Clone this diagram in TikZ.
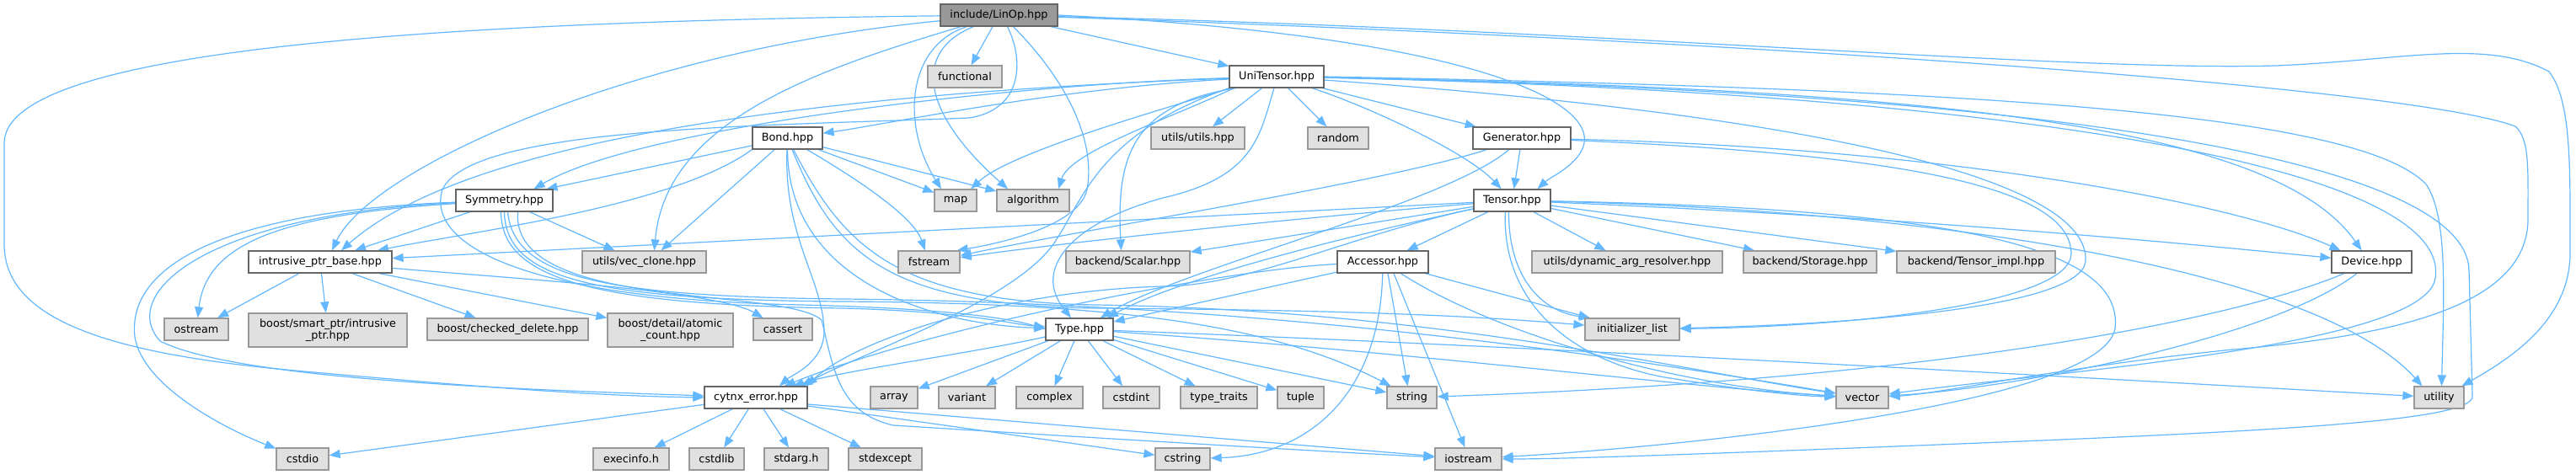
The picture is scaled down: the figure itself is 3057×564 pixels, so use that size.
\documentclass[tikz,border=0pt]{standalone}
\usepackage{fontspec}
\setmainfont{DejaVu Sans}
\usetikzlibrary{arrows.meta}
\definecolor{edgeblue}{HTML}{63B8FF}
\definecolor{boxborder}{HTML}{666666}
\definecolor{sysborder}{HTML}{999999}
\definecolor{sysfill}{HTML}{E0E0E0}
\definecolor{rootfill}{HTML}{999999}
\pgfdeclarelayer{bg}
\pgfsetlayers{bg,main}
\begin{document}
\begin{tikzpicture}[x=1pt,y=-1pt,
  box/.style={draw=boxborder, fill=white, line width=1.3pt, inner sep=0pt,
    font=\fontsize{12.8}{14.5}\selectfont, align=center, minimum height=26pt},
  sysbox/.style={box, draw=sysborder, fill=sysfill},
  rootbox/.style={box, draw=boxborder, fill=rootfill},
  e/.style={draw=edgeblue, line width=1.2pt, -{Triangle[length=13pt,width=10pt]}}]
\useasboundingbox (0,0) rectangle (3057,564);
% rank 1
\node[rootbox, minimum width=139pt] (linop) at (1185.5,18) {include/LinOp.hpp};
% rank 2
\node[sysbox, minimum width=88pt] (functional) at (1145,91) {functional};
\node[box, minimum width=112pt] (unitensor) at (1515,91) {UniTensor.hpp};
% rank 3
\node[box, minimum width=83pt] (bond) at (934.5,164) {Bond.hpp};
\node[sysbox, minimum width=111pt] (utilsutils) at (1421.5,164) {utils/utils.hpp};
\node[sysbox, minimum width=72pt] (random) at (1588,164) {random};
\node[box, minimum width=116pt] (generator) at (1806,164) {Generator.hpp};
% rank 4
\node[box, minimum width=115pt] (symmetry) at (598.5,238) {Symmetry.hpp};
\node[sysbox, minimum width=50pt] (map) at (1134,238) {map};
\node[sysbox, minimum width=86pt] (algorithm) at (1226,238) {algorithm};
\node[box, minimum width=91pt] (tensor) at (1794.5,238) {Tensor.hpp};
% rank 5
\node[box, minimum width=170pt] (intrusive) at (380,311) {intrusive\_ptr\_base.hpp};
\node[sysbox, minimum width=147pt] (vecclone) at (764.5,311) {utils/vec\_clone.hpp};
\node[sysbox, minimum width=73pt] (fstream) at (1102.5,311) {fstream};
\node[sysbox, minimum width=147pt] (scalar) at (1338.5,311) {backend/Scalar.hpp};
\node[box, minimum width=108pt] (accessor) at (1641,311) {Accessor.hpp};
\node[sysbox, minimum width=226pt] (dynarg) at (1931,311) {utils/dynamic\_arg\_resolver.hpp};
\node[sysbox, minimum width=158pt] (storage) at (2148,311) {backend/Storage.hpp};
\node[sysbox, minimum width=188pt] (tensorimpl) at (2345,311) {backend/Tensor\_impl.hpp};
\node[box, minimum width=95pt] (device) at (2814.5,311) {Device.hpp};
% rank 6
\node[sysbox, minimum width=76pt] (ostream) at (233,391) {ostream};
\node[sysbox, minimum width=188pt, minimum height=40pt] (smartptr) at (389,392) {boost/smart\_ptr/intrusive\\\_ptr.hpp};
\node[sysbox, minimum width=191pt] (checked) at (602.5,391) {boost/checked\_delete.hpp};
\node[sysbox, minimum width=149pt, minimum height=40pt] (atomic) at (795.5,392) {boost/detail/atomic\\\_count.hpp};
\node[sysbox, minimum width=70pt] (cassert) at (929,391) {cassert};
\node[box, minimum width=80pt] (type) at (1281,391) {Type.hpp};
\node[sysbox, minimum width=112pt] (initlist) at (1937,391) {initializer\_list};
% rank 7
\node[box, minimum width=122pt] (cytnxerror) at (897,472) {cytnx\_error.hpp};
\node[sysbox, minimum width=56pt] (array) at (1061,472) {array};
\node[sysbox, minimum width=67pt] (variant) at (1147.5,472) {variant};
\node[sysbox, minimum width=79pt] (complex) at (1245.5,472) {complex};
\node[sysbox, minimum width=67pt] (cstdint) at (1342.5,472) {cstdint};
\node[sysbox, minimum width=91pt] (typetraits) at (1446.5,472) {type\_traits};
\node[sysbox, minimum width=55pt] (tuple) at (1543.5,472) {tuple};
\node[sysbox, minimum width=59pt] (string) at (1675.5,472) {string};
\node[sysbox, minimum width=62pt] (vector) at (2210,472) {vector};
\node[sysbox, minimum width=59pt] (utility) at (2894.5,472) {utility};
% rank 8
\node[sysbox, minimum width=62pt] (cstdio) at (359,545) {cstdio};
\node[sysbox, minimum width=90pt] (execinfo) at (749,545) {execinfo.h};
\node[sysbox, minimum width=65pt] (cstdlib) at (850.5,545) {cstdlib};
\node[sysbox, minimum width=76pt] (stdarg) at (945,545) {stdarg.h};
\node[sysbox, minimum width=87pt] (stdexcept) at (1050.5,545) {stdexcept};
\node[sysbox, minimum width=65pt] (cstring) at (1403.5,545) {cstring};
\node[sysbox, minimum width=79pt] (iostream) at (1742.5,545) {iostream};

\begin{pgfonlayer}{bg}
\fill[white] (0,0) rectangle (3057,564);
% ---- LinOp
\draw[e] (linop) .. controls (500,26) and (5,60) .. (5,170) -- (5,290) .. controls (5,380) and (130,420) .. (350,440) .. controls (550,458) and (700,470) .. (cytnxerror.west);
\draw[e] (linop) .. controls (750,60) and (440,200) .. ([xshift=14pt]intrusive.north);
\draw[e] (linop) .. controls (980,80) and (790,140) .. ([xshift=12pt]vecclone.north);
\draw[e] ([xshift=32pt]linop.south west) .. controls (1075,55) and (1070,150) .. ([xshift=-17pt]map.north);
\draw[e] ([xshift=40pt]linop.south west) .. controls (1085,60) and (1090,130) .. ([xshift=-30pt]algorithm.north);
\draw[e] (linop) -- (functional);
\draw[e] ([xshift=10pt]linop.south) .. controls (1215,70) and (1215,130) .. (1150,140) .. controls (900,150) and (560,150) .. (525,225) .. controls (505,290) and (620,355) .. (950,362) .. controls (1120,366) and (1200,378) .. (type.west);
\draw[e] ([xshift=17pt]linop.south) .. controls (1270,100) and (1300,170) .. (1290,225) .. controls (1280,270) and (1180,290) .. ([xshift=-4pt]fstream.north east);
\draw[e] (linop) -- (unitensor);
\draw[e] (linop.east) .. controls (1700,40) and (1890,110) .. (1880,170) .. controls (1875,195) and (1840,210) .. ([xshift=30pt]tensor.north);
\draw[e] (linop) .. controls (1900,35) and (2450,85) .. (2700,78) .. controls (2850,72) and (2950,45) .. (3025,85) .. controls (3052,120) and (3050,200) .. (3050,300) .. controls (3050,380) and (2980,425) .. ([xshift=27pt]utility.north);
\draw[e] (linop) .. controls (2000,45) and (2850,100) .. (2985,150) .. controls (3002,165) and (3000,200) .. (3000,260) .. controls (3000,370) and (2820,400) .. (2650,415) .. controls (2450,435) and (2300,468) .. (vector);
% ---- UniTensor
\draw[e] (unitensor) -- (utilsutils);
\draw[e] (unitensor) -- (random);
\draw[e] (unitensor) -- (generator);
\draw[e] (unitensor) .. controls (1620,125) and (1740,180) .. (tensor);
\draw[e] (unitensor) .. controls (1250,105) and (1050,148) .. (bond);
\draw[e] (unitensor) .. controls (1200,100) and (760,150) .. ([xshift=35pt]symmetry.north);
\draw[e] (unitensor) .. controls (1000,110) and (560,160) .. ([xshift=25pt]intrusive.north);
\draw[e] (unitensor.south west) .. controls (1300,160) and (1285,240) .. (1250,290) .. controls (1200,360) and (1020,420) .. ([xshift=54pt]cytnxerror.north);
\draw[e] ([xshift=2pt]unitensor.south west) .. controls (1380,130) and (1200,180) .. ([xshift=18pt]map.north);
\draw[e] ([xshift=6pt]unitensor.south west) .. controls (1390,140) and (1270,180) .. ([xshift=30pt]algorithm.north);
\draw[e] ([xshift=8pt]unitensor.south west) .. controls (1340,125) and (1325,190) .. ([xshift=-8pt]scalar.north);
\draw[e] ([xshift=-3pt]unitensor.south) .. controls (1495,160) and (1490,210) .. (1380,235) .. controls (1270,265) and (1225,320) .. ([xshift=-10pt]type.north);
\draw[e] (unitensor) .. controls (2300,105) and (2700,150) .. ([xshift=-12pt]device.north);
\draw[e] (unitensor.east) .. controls (2300,105) and (2800,130) .. (2880,220) .. controls (2905,260) and (2900,350) .. ([xshift=3pt]utility.north);
\draw[e] (unitensor) .. controls (2400,110) and (2910,200) .. (2890,330) .. controls (2880,410) and (2450,440) .. (vector);
\draw[e] (unitensor) .. controls (2500,110) and (2925,200) .. (2930,320) -- (2934,470) .. controls (2938,500) and (2700,512) .. (2300,528) .. controls (2000,540) and (1850,545) .. (iostream);
\draw[e] (unitensor) .. controls (2200,140) and (2480,220) .. (2475,310) .. controls (2470,365) and (2200,385) .. (initlist);
% ---- Generator
\draw[e] (generator) -- (tensor);
\draw[e] (generator) .. controls (2300,175) and (2650,240) .. ([xshift=-37pt]device.north);
\draw[e] (generator) .. controls (2300,185) and (2455,230) .. (2458,300) .. controls (2460,360) and (2200,388) .. (initlist);
\draw[e] (generator) .. controls (1650,215) and (1300,270) .. (fstream);
\draw[e] (generator) .. controls (1720,240) and (1400,320) .. ([xshift=25pt]type.north);
% ---- Tensor
\draw[e] (tensor) -- (accessor);
\draw[e] (tensor) -- (dynarg);
\draw[e] (tensor) -- (storage);
\draw[e] (tensor) -- (tensorimpl);
\draw[e] ([xshift=-4pt]tensor.south) .. controls (1790,330) and (1830,370) .. ([xshift=-50pt]initlist.north);
\draw[e] ([xshift=-8pt]tensor.south) .. controls (1782,340) and (1840,420) .. (1970,447) .. controls (2060,462) and (2130,470) .. (vector);
\draw[e] (tensor) .. controls (2300,260) and (2600,290) .. (device);
\draw[e] (tensor) .. controls (2300,250) and (2750,320) .. ([xshift=-20pt]utility.north);
\draw[e] (tensor) .. controls (2350,248) and (2520,300) .. (2510,390) .. controls (2495,480) and (2000,530) .. (iostream);
\draw[e] (tensor) -- (intrusive);
\draw[e] (tensor) .. controls (1500,262) and (1250,290) .. (fstream);
\draw[e] (tensor) -- (scalar);
\draw[e] (tensor) .. controls (1600,280) and (1400,330) .. ([xshift=33pt]type.north);
\draw[e] (tensor) .. controls (1600,280) and (1480,340) .. (1380,340) .. controls (1200,345) and (1020,400) .. ([xshift=60pt]cytnxerror.north);
% ---- Accessor
\draw[e] (accessor) -- (type);
\draw[e] (accessor) .. controls (1450,320) and (1100,390) .. (cytnxerror);
\draw[e] (accessor) .. controls (1638,460) and (1560,540) .. (cstring);
\draw[e] ([xshift=6pt]accessor.south) -- ([xshift=-5pt]string.north);
\draw[e] ([xshift=13pt]accessor.south) -- ([xshift=-4pt]iostream.north);
\draw[e] (accessor) .. controls (1780,400) and (2000,460) .. (vector);
\draw[e] (accessor) -- (initlist);
% ---- Type
\draw[e] (type) -- (array);
\draw[e] (type) -- (variant);
\draw[e] (type) -- (complex);
\draw[e] (type) -- (cstdint);
\draw[e] (type) -- (typetraits);
\draw[e] (type) -- (tuple);
\draw[e] (type) -- (string);
\draw[e] (type) .. controls (1700,420) and (2000,460) .. (vector);
\draw[e] (type) .. controls (1800,410) and (2500,450) .. (utility);
\draw[e] (type) .. controls (1150,420) and (1000,440) .. (cytnxerror);
% ---- cytnx_error
\draw[e] (cytnxerror) -- (cstdio);
\draw[e] (cytnxerror) -- (execinfo);
\draw[e] (cytnxerror) -- (cstdlib);
\draw[e] (cytnxerror) -- (stdarg);
\draw[e] (cytnxerror) -- (stdexcept);
\draw[e] ([yshift=-10pt]cytnxerror.east) -- (cstring);
\draw[e] ([yshift=-8pt]cytnxerror.east) -- (iostream);
% ---- Device
\draw[e] (device) .. controls (2650,380) and (2300,450) .. (string);
\draw[e] (device) .. controls (2700,400) and (2400,460) .. (vector);
% ---- Symmetry
\draw[e] (symmetry) -- ([xshift=41pt]intrusive.north);
\draw[e] (symmetry) -- ([xshift=-35pt]vecclone.north);
\draw[e] (symmetry) .. controls (330,255) and (245,290) .. (ostream);
\draw[e] (symmetry) .. controls (280,250) and (150,310) .. (160,400) .. controls (170,460) and (270,510) .. (cstdio);
\draw[e] (symmetry) .. controls (240,255) and (140,350) .. (190,405) .. controls (280,450) and (600,462) .. (cytnxerror);
\draw[e] ([xshift=-4pt]symmetry.south) .. controls (595,330) and (700,362) .. (1000,366) .. controls (1150,370) and (1200,385) .. (type);
\draw[e] (symmetry.south) .. controls (600,330) and (700,356) .. (1000,358) .. controls (1300,360) and (1500,380) .. ([xshift=-25pt]string.north);
\draw[e] ([xshift=4pt]symmetry.south) .. controls (610,330) and (720,352) .. (1000,355) .. controls (1500,360) and (1900,420) .. (vector);
\draw[e] ([xshift=16pt]symmetry.south) .. controls (605,370) and (930,340) .. (975,380) .. controls (990,440) and (995,490) .. (1060,505) .. controls (1300,520) and (1550,535) .. (iostream);
% ---- intrusive_ptr_base
\draw[e] (intrusive) -- (ostream);
\draw[e] (intrusive) -- (smartptr);
\draw[e] (intrusive) -- (checked);
\draw[e] (intrusive) -- (atomic);
\draw[e] (intrusive) .. controls (600,330) and (850,345) .. (cassert);
% ---- Bond
\draw[e] (bond) -- ([xshift=50pt]symmetry.north);
\draw[e] (bond.south west) .. controls (800,245) and (560,275) .. ([xshift=68pt]intrusive.north);
\draw[e] (bond) -- ([xshift=20pt]vecclone.north);
\draw[e] (bond) .. controls (930,280) and (975,330) .. (978,390) .. controls (980,430) and (940,445) .. ([xshift=28pt]cytnxerror.north);
\draw[e] (bond) .. controls (935,330) and (1100,385) .. (type);
\draw[e] (bond) .. controls (990,300) and (1050,362) .. (1300,366) .. controls (1600,368) and (1750,375) .. (initlist);
\draw[e] (bond) .. controls (1000,290) and (1060,358) .. (1300,362) .. controls (1700,368) and (2000,440) .. (vector);
\draw[e] (bond) .. controls (1030,220) and (1085,260) .. (fstream);
\draw[e] (bond) -- (map);
\draw[e] (bond) -- (algorithm);
\end{pgfonlayer}
\end{tikzpicture}
\end{document}
